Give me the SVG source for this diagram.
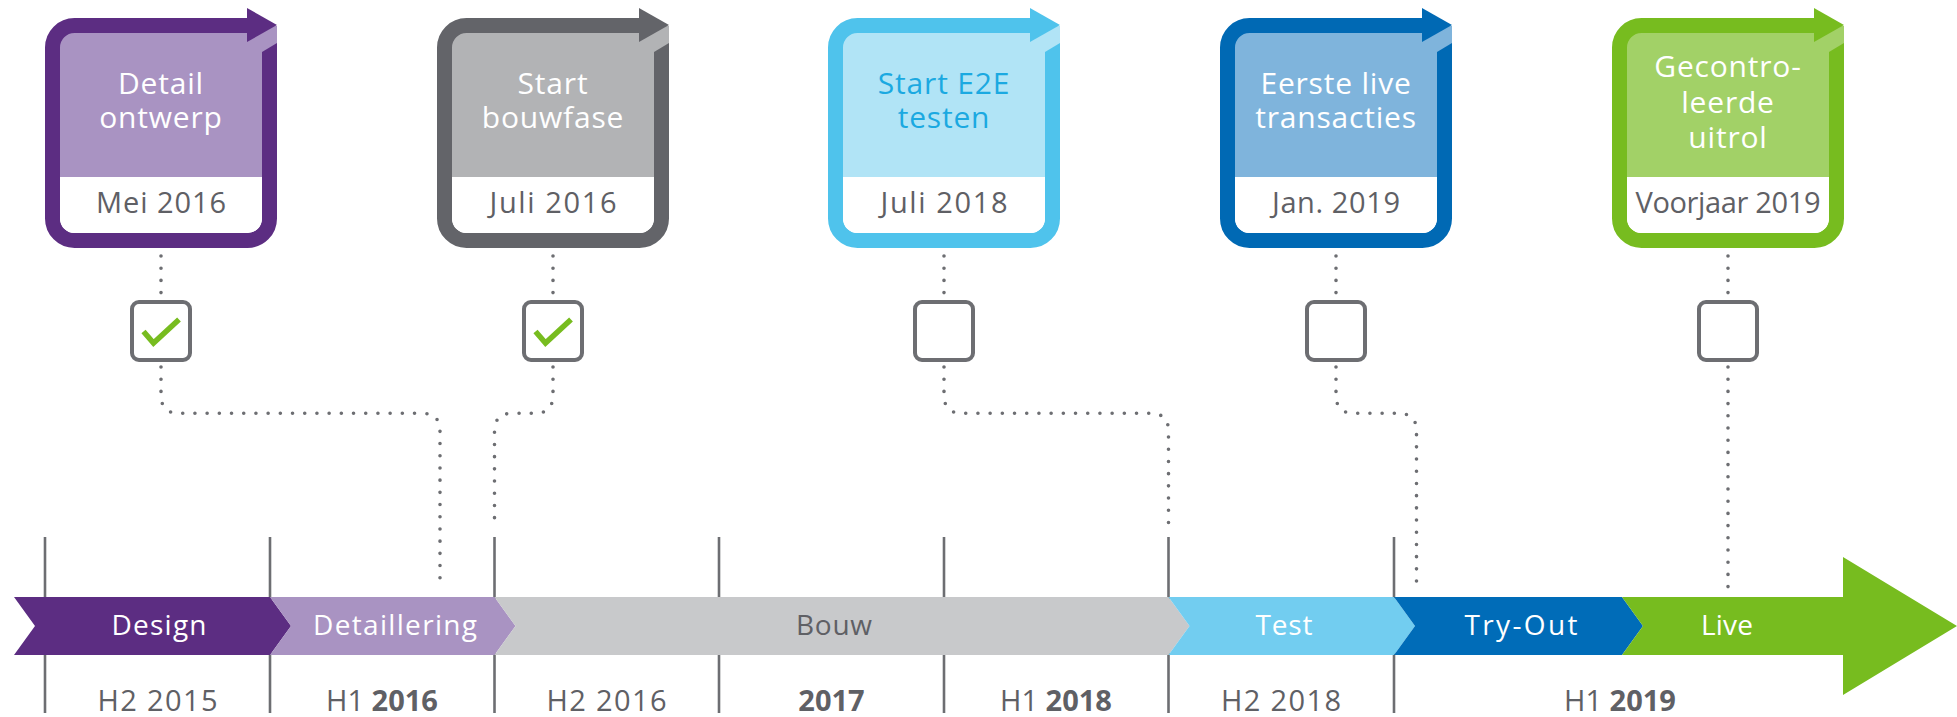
<svg xmlns="http://www.w3.org/2000/svg" width="1957" height="717" viewBox="0 0 1957 717">
<style>
text{font-family:"Open Sans","Noto Sans","Liberation Sans",sans-serif}
.fr{fill:none;stroke-width:15}
.ttl{font-size:30px;text-anchor:middle;fill:#fff;letter-spacing:0.8px}
.dt{font-size:29px;text-anchor:middle;fill:#5f6065}
.cb{fill:#fff;stroke:#6d6e72;stroke-width:4}
.ck{fill:none;stroke:#77bc1f;stroke-width:5.5}
.dot{fill:none;stroke:#6d6e72;stroke-width:3.6;stroke-linecap:round;stroke-dasharray:0 12.2}
.tick{stroke:#6d6e72;stroke-width:2.6}
.bl{font-size:28px;text-anchor:middle;fill:#fff}
.yl{font-size:29px;text-anchor:middle;fill:#5f6065}
.b{font-weight:700}
.wh{fill:#fff}
</style>
<rect width="1957" height="717" fill="#fff"/>

<g id="timeline">
  <g id="ticks">
    <line class="tick" x1="45" y1="537" x2="45" y2="713"/>
    <line class="tick" x1="270" y1="537" x2="270" y2="713"/>
    <line class="tick" x1="494.5" y1="537" x2="494.5" y2="713"/>
    <line class="tick" x1="719" y1="537" x2="719" y2="713"/>
    <line class="tick" x1="944" y1="537" x2="944" y2="713"/>
    <line class="tick" x1="1168.5" y1="537" x2="1168.5" y2="713"/>
    <line class="tick" x1="1394" y1="537" x2="1394" y2="713"/>
  </g>
  <g id="phase-design">
    <polygon fill="#5c2d82" points="14,597 270,597 291,626 270,655 14,655 35,626"/>
    <text class="bl" x="159" y="635" textLength="95">Design</text>
  </g>
  <g id="phase-detaillering">
    <polygon fill="#a993c2" points="270,597 494.5,597 515.5,626 494.5,655 270,655 291,626"/>
    <text class="bl" x="395" y="635" textLength="164">Detaillering</text>
  </g>
  <g id="phase-bouw">
    <polygon fill="#c8c9cb" points="494.5,597 1168.5,597 1189.5,626 1168.5,655 494.5,655 515.5,626"/>
    <text class="bl" x="834" y="635" textLength="76" style="fill:#5f6065">Bouw</text>
  </g>
  <g id="phase-test">
    <polygon fill="#72cdf0" points="1168.5,597 1394,597 1415,626 1394,655 1168.5,655 1189.5,626"/>
    <text class="bl" x="1284" y="635" textLength="57">Test</text>
  </g>
  <g id="phase-tryout">
    <polygon fill="#006cb8" points="1394,597 1622,597 1643,626 1622,655 1394,655 1415,626"/>
    <text class="bl" x="1521" y="635" textLength="113">Try-Out</text>
  </g>
  <g id="phase-live">
    <polygon fill="#77bc1f" points="1622,597 1843,597 1843,557 1957,626 1843,695 1843,655 1622,655 1643,626"/>
    <text class="bl" x="1727" y="635" textLength="52">Live</text>
  </g>
  <g id="periods">
    <text class="yl" x="157.5" y="711" textLength="120">H2 2015</text>
    <text class="yl" x="382" y="711">H1 <tspan class="b">2016</tspan></text>
    <text class="yl" x="606.5" y="711" textLength="120">H2 2016</text>
    <text class="yl b" x="831.5" y="711">2017</text>
    <text class="yl" x="1056" y="711">H1 <tspan class="b">2018</tspan></text>
    <text class="yl" x="1281" y="711" textLength="120">H2 2018</text>
    <text class="yl" x="1620" y="711">H1 <tspan class="b">2019</tspan></text>
  </g>
</g>

<g id="connectors">
  <path class="dot" d="M161,256 V293"/>
  <path class="dot" d="M553,256 V293"/>
  <path class="dot" d="M944,256 V293"/>
  <path class="dot" d="M1336,256 V293"/>
  <path class="dot" d="M1728,256 V293"/>
  <path class="dot" d="M161,367 V395 Q161,413.3 179,413.3 H422 Q440,413.3 440,431 V588"/>
  <path class="dot" d="M553,367 V395 Q553,413.3 535,413.3 H512.5 Q494.5,413.3 494.5,431 V528"/>
  <path class="dot" d="M944,367 V395 Q944,413.3 962,413.3 H1150.5 Q1168.5,413.3 1168.5,431 V528"/>
  <path class="dot" d="M1336,367 V395 Q1336,413.3 1354,413.3 H1398.5 Q1416.5,413.3 1416.5,431 V588"/>
  <path class="dot" d="M1728,367 V588"/>
</g>

<g id="milestone-1">
  <rect x="58" y="26" width="219" height="154" fill="#a993c2"/>
  <path class="fr" stroke="#5c2d82" d="M269.5,55 V218.5 A22,22 0 0 1 247.5,240.5 H74.5 A22,22 0 0 1 52.5,218.5 V47.5 A22,22 0 0 1 74.5,25.5 H248"/>
  <polygon fill="#5c2d82" points="262,56 277,56 277,43 262,52"/>
  <polygon fill="#5c2d82" points="247,8 277,25 247,42"/>
  <path class="wh" d="M60,177 H262 V218.5 A14.5,14.5 0 0 1 247.5,233 H74.5 A14.5,14.5 0 0 1 60,218.5 Z"/>
  <text class="ttl"><tspan x="161" y="94">Detail</tspan><tspan x="161" y="128">ontwerp</tspan></text>
  <text class="dt" x="161" y="213" textLength="130">Mei 2016</text>
  <rect class="cb" x="132" y="302" width="58" height="58" rx="7"/>
  <path class="ck" d="M143.5,331.5 L153.5,343 L179,319.5"/>
</g>

<g id="milestone-2" transform="translate(392,0)">
  <rect x="58" y="26" width="219" height="154" fill="#b2b3b5"/>
  <path class="fr" stroke="#636469" d="M269.5,55 V218.5 A22,22 0 0 1 247.5,240.5 H74.5 A22,22 0 0 1 52.5,218.5 V47.5 A22,22 0 0 1 74.5,25.5 H248"/>
  <polygon fill="#636469" points="262,56 277,56 277,43 262,52"/>
  <polygon fill="#636469" points="247,8 277,25 247,42"/>
  <path class="wh" d="M60,177 H262 V218.5 A14.5,14.5 0 0 1 247.5,233 H74.5 A14.5,14.5 0 0 1 60,218.5 Z"/>
  <text class="ttl"><tspan x="161" y="93.5">Start</tspan><tspan x="161" y="128">bouwfase</tspan></text>
  <text class="dt" x="161" y="213" textLength="127">Juli 2016</text>
  <rect class="cb" x="132" y="302" width="58" height="58" rx="7"/>
  <path class="ck" d="M143.5,331.5 L153.5,343 L179,319.5"/>
</g>

<g id="milestone-3" transform="translate(783,0)">
  <rect x="58" y="26" width="219" height="154" fill="#b1e4f6"/>
  <path class="fr" stroke="#4fc3ec" d="M269.5,55 V218.5 A22,22 0 0 1 247.5,240.5 H74.5 A22,22 0 0 1 52.5,218.5 V47.5 A22,22 0 0 1 74.5,25.5 H248"/>
  <polygon fill="#4fc3ec" points="262,56 277,56 277,43 262,52"/>
  <polygon fill="#4fc3ec" points="247,8 277,25 247,42"/>
  <path class="wh" d="M60,177 H262 V218.5 A14.5,14.5 0 0 1 247.5,233 H74.5 A14.5,14.5 0 0 1 60,218.5 Z"/>
  <text class="ttl" style="fill:#1ba9e1"><tspan x="161" y="93.5">Start E2E</tspan><tspan x="161" y="128">testen</tspan></text>
  <text class="dt" x="161" y="213" textLength="127">Juli 2018</text>
  <rect class="cb" x="132" y="302" width="58" height="58" rx="7"/>
</g>

<g id="milestone-4" transform="translate(1175,0)">
  <rect x="58" y="26" width="219" height="154" fill="#7fb4dc"/>
  <path class="fr" stroke="#0069b4" d="M269.5,55 V218.5 A22,22 0 0 1 247.5,240.5 H74.5 A22,22 0 0 1 52.5,218.5 V47.5 A22,22 0 0 1 74.5,25.5 H248"/>
  <polygon fill="#0069b4" points="262,56 277,56 277,43 262,52"/>
  <polygon fill="#0069b4" points="247,8 277,25 247,42"/>
  <path class="wh" d="M60,177 H262 V218.5 A14.5,14.5 0 0 1 247.5,233 H74.5 A14.5,14.5 0 0 1 60,218.5 Z"/>
  <text class="ttl"><tspan x="161" y="93.5">Eerste live</tspan><tspan x="161" y="128">transacties</tspan></text>
  <text class="dt" x="161" y="213" textLength="128">Jan. 2019</text>
  <rect class="cb" x="132" y="302" width="58" height="58" rx="7"/>
</g>

<g id="milestone-5" transform="translate(1567,0)">
  <rect x="58" y="26" width="219" height="154" fill="#a2d167"/>
  <path class="fr" stroke="#77bc1f" d="M269.5,55 V218.5 A22,22 0 0 1 247.5,240.5 H74.5 A22,22 0 0 1 52.5,218.5 V47.5 A22,22 0 0 1 74.5,25.5 H248"/>
  <polygon fill="#77bc1f" points="262,56 277,56 277,43 262,52"/>
  <polygon fill="#77bc1f" points="247,8 277,25 247,42"/>
  <path class="wh" d="M60,177 H262 V218.5 A14.5,14.5 0 0 1 247.5,233 H74.5 A14.5,14.5 0 0 1 60,218.5 Z"/>
  <text class="ttl"><tspan x="161" y="77">Gecontro-</tspan><tspan x="161" y="113">leerde</tspan><tspan x="161" y="148">uitrol</tspan></text>
  <text class="dt" x="161" y="213" textLength="185">Voorjaar 2019</text>
  <rect class="cb" x="132" y="302" width="58" height="58" rx="7"/>
</g>
</svg>
